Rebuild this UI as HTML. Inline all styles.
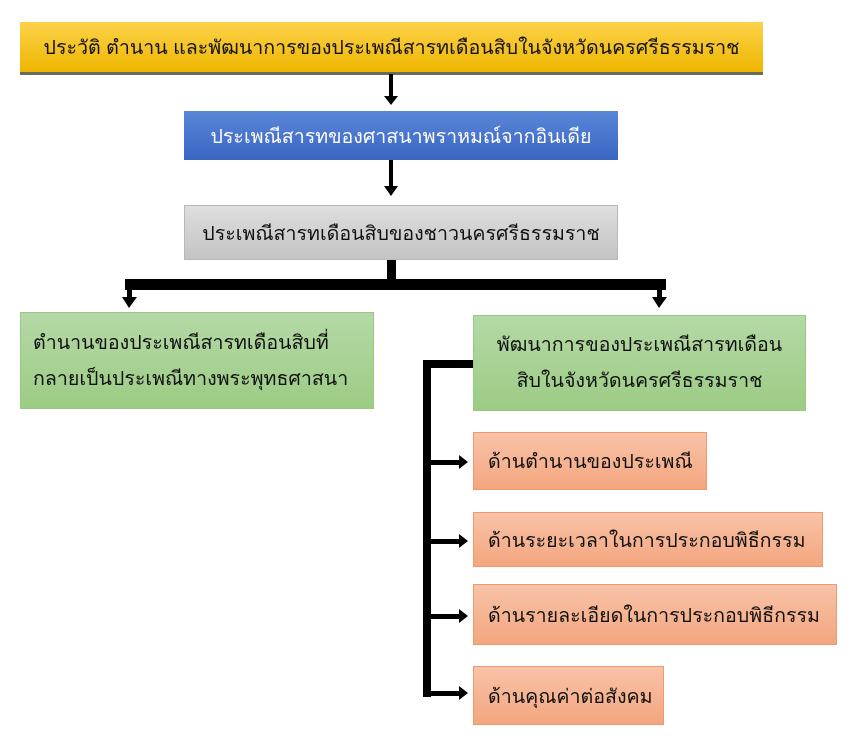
<!DOCTYPE html>
<html><head><meta charset="utf-8"><style>
body{margin:0;width:860px;height:752px;background:#fff;position:relative;overflow:hidden;font-family:"Liberation Sans","DejaVu Sans",sans-serif;}
.b{position:absolute;box-sizing:border-box;display:flex;align-items:center;font-size:19.6px;color:#111;}
.c{justify-content:center;text-align:center}
.o{background:linear-gradient(#f8c3a8,#f4a67f);border:1px solid #ef9a6c;padding-left:14px}
.g{background:linear-gradient(#b5d9a6,#9ccc84);border:1px solid #9bc784;line-height:36px}
</style></head><body>
<div class="b c" style="left:20px;top:22px;width:743px;height:53px;background:linear-gradient(#fcd24a,#eeb600);border-bottom:3px solid #6b6b5b">ประวัติ ตำนาน และพัฒนาการของประเพณีสารทเดือนสิบในจังหวัดนครศรีธรรมราช</div>
<div class="b c" style="left:184px;top:111px;width:434px;height:49px;background:linear-gradient(#5a86d8,#3a66c4);color:#fff">ประเพณีสารทของศาสนาพราหมณ์จากอินเดีย</div>
<div class="b c" style="left:184px;top:205px;width:434px;height:55px;background:linear-gradient(#dedede,#c4c4c4);border:1px solid #b8b8b8">ประเพณีสารทเดือนสิบของชาวนครศรีธรรมราช</div>
<div class="b g" style="left:20px;top:312px;width:354px;height:97px;padding-left:12px">ตำนานของประเพณีสารทเดือนสิบที่<br>กลายเป็นประเพณีทางพระพุทธศาสนา</div>
<div class="b g c" style="left:473px;top:315px;width:333px;height:96px">พัฒนาการของประเพณีสารทเดือน<br>สิบในจังหวัดนครศรีธรรมราช</div>
<div class="b o" style="left:473px;top:432px;width:234px;height:58px">ด้านตำนานของประเพณี</div>
<div class="b o" style="left:473px;top:512px;width:350px;height:55px">ด้านระยะเวลาในการประกอบพิธีกรรม</div>
<div class="b o" style="left:473px;top:584px;width:364px;height:61px">ด้านรายละเอียดในการประกอบพิธีกรรม</div>
<div class="b o" style="left:473px;top:666px;width:191px;height:59px">ด้านคุณค่าต่อสังคม</div>
<svg width="860" height="752" style="position:absolute;left:0;top:0">
<g fill="#000">
<rect x="389" y="74" width="4" height="24"/><polygon points="384,96 398,96 391,105"/>
<rect x="389" y="160" width="4" height="28"/><polygon points="384,186 398,186 391,196"/>
<rect x="387" y="260" width="9" height="30"/>
<rect x="125" y="279" width="541" height="11"/>
<rect x="127" y="285" width="5" height="14"/><polygon points="122,297 137,297 129,308"/>
<rect x="657" y="285" width="5" height="14"/><polygon points="652,297 667,297 659,308"/>
<rect x="423" y="360" width="50" height="8"/>
<rect x="423" y="360" width="8" height="337"/>
<rect x="423" y="689" width="8" height="8"/>
<rect x="431" y="460" width="30" height="5"/><polygon points="459,455 468,462 459,469"/>
<rect x="431" y="539" width="30" height="5"/><polygon points="459,534 468,541 459,548"/>
<rect x="431" y="614" width="30" height="5"/><polygon points="459,609 468,616 459,623"/>
<rect x="431" y="691" width="30" height="5"/><polygon points="459,686 468,693 459,700"/>
</g></svg>
</body></html>
